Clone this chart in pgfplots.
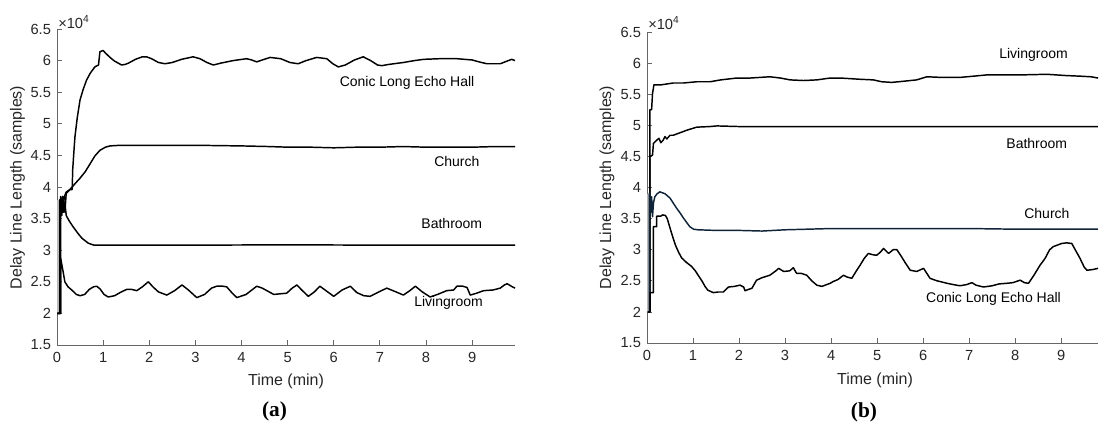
\documentclass[border=0pt]{standalone}
\usepackage{fontspec}
\setmainfont{Liberation Sans}
\newfontfamily\capfont{Liberation Serif}
\usepackage{pgfplots}
\pgfplotsset{compat=1.18}
\definecolor{axgray}{rgb}{0.40,0.40,0.40}
\definecolor{tickgray}{rgb}{0.15,0.15,0.15}
\definecolor{navyline}{rgb}{0.06,0.14,0.22}
\pgfplotsset{
  ser/.style={black, no markers, line width=1.1pt, line join=round},
  mystyle/.style={
    scale only axis,
    anchor=south west,
    axis x line=bottom, axis y line=left,
    x axis line style={-, color=axgray, line width=0.6pt},
    y axis line style={-, color=axgray, line width=0.6pt},
    tick align=inside,
    major tick length=3.5pt,
    tick style={color=axgray, line width=0.6pt},
    ymin=1.5, ymax=6.5,
    ytick={1.5,2,2.5,3,3.5,4,4.5,5,5.5,6,6.5},
    xtick={0,1,2,3,4,5,6,7,8,9},
    /pgf/number format/assume math mode=true,
    ticklabel style={font=\fontsize{11}{13}\selectfont, text=tickgray},
    yticklabel style={xshift=-1pt},
    xticklabel style={yshift=-2pt},
    clip=false,
  }
}
\begin{document}
\begin{tikzpicture}
\path[use as bounding box] (0,0) rectangle (824.25pt,324pt);
% ---------------- (a) ----------------
\begin{axis}[mystyle, at={(42.75pt,65.25pt)}, width=343.5pt, height=237pt, xmin=0, xmax=9.93]
\addplot[fill=gray!55, draw=none, line width=0pt] coordinates {(0.005,2.0) (0.07,2.0) (0.07,3.8) (0.005,3.8)} -- cycle;
% Conic Long Echo Hall
\addplot[ser] coordinates {
(0.01,2.0)(0.06,2.0)(0.06,3.8)(0.10,3.55)(0.13,3.85)(0.17,3.6)(0.20,3.9)(0.24,3.93)(0.28,3.96)(0.33,3.96)
(0.34,4.27)(0.37,4.6)(0.39,4.80)(0.44,5.10)(0.50,5.38)(0.57,5.55)(0.64,5.69)(0.72,5.80)(0.82,5.90)(0.90,5.93)
(0.93,6.14)(1.00,6.16)(1.05,6.12)(1.15,6.05)(1.25,5.99)(1.33,5.96)(1.40,5.93)(1.48,5.94)(1.55,5.96)(1.70,6.02)
(1.85,6.06)(1.94,6.06)(2.05,6.03)(2.20,5.97)(2.34,5.95)(2.50,5.97)(2.70,6.02)(2.95,6.06)(3.10,6.03)(3.25,5.97)
(3.39,5.93)(3.55,5.96)(3.82,6.00)(4.11,6.03)(4.22,6.01)(4.33,5.98)(4.45,6.01)(4.62,6.05)(4.85,6.03)(5.05,5.97)
(5.23,5.95)(5.40,6.00)(5.63,6.05)(5.85,6.03)(5.98,5.95)(6.10,5.90)(6.25,5.93)(6.45,6.01)(6.64,6.06)(6.80,6.00)
(6.95,5.93)(7.04,5.92)(7.20,5.94)(7.51,5.97)(7.75,6.00)(7.95,6.02)(8.30,6.03)(8.67,6.03)(9.00,6.01)(9.15,5.98)
(9.32,5.95)(9.61,5.95)(9.75,5.99)(9.86,6.02)(9.93,6.00)};
% Church
\addplot[ser] coordinates {
(0.01,2.0)(0.07,2.0)(0.07,3.75)(0.12,3.6)(0.16,3.85)(0.20,3.92)(0.28,3.96)(0.40,4.06)(0.50,4.14)(0.61,4.24)
(0.72,4.37)(0.82,4.49)(0.93,4.58)(1.05,4.63)(1.15,4.65)(1.37,4.66)(2.0,4.66)(3.0,4.66)(4.0,4.65)(4.6,4.64)
(5.0,4.63)(5.5,4.63)(6.0,4.62)(6.5,4.63)(7.0,4.63)(7.5,4.64)(8.0,4.63)(8.5,4.63)(9.0,4.63)(9.5,4.64)(9.93,4.64)};
% Bathroom
\addplot[ser] coordinates {
(0.01,2.0)(0.08,2.0)(0.08,3.85)(0.10,3.55)(0.12,3.85)(0.14,3.6)(0.17,3.75)(0.20,3.55)(0.25,3.48)(0.35,3.37)
(0.45,3.27)(0.54,3.19)(0.68,3.11)(0.80,3.08)(0.90,3.08)(1.5,3.08)(3.0,3.08)(5.0,3.085)(7.0,3.08)(9.0,3.08)(9.93,3.08)};
% Livingroom
\addplot[ser] coordinates {
(0.01,2.0)(0.08,2.0)(0.08,2.87)(0.11,2.75)(0.14,2.63)(0.17,2.50)(0.24,2.42)(0.32,2.37)(0.42,2.30)(0.50,2.28)
(0.60,2.30)(0.70,2.38)(0.79,2.42)(0.86,2.43)(0.93,2.39)(1.02,2.30)(1.11,2.26)(1.25,2.28)(1.37,2.33)(1.51,2.38)
(1.62,2.38)(1.73,2.36)(1.85,2.42)(1.98,2.50)(2.08,2.42)(2.20,2.34)(2.38,2.29)(2.55,2.36)(2.71,2.45)(2.85,2.37)
(3.03,2.25)(3.20,2.30)(3.35,2.40)(3.46,2.43)(3.60,2.43)(3.68,2.42)(3.80,2.32)(3.90,2.25)(4.10,2.30)(4.33,2.43)
(4.45,2.40)(4.55,2.36)(4.70,2.30)(4.84,2.31)(4.98,2.32)(5.10,2.40)(5.20,2.45)(5.32,2.36)(5.45,2.27)(5.58,2.34)
(5.70,2.43)(5.85,2.35)(6.00,2.27)(6.18,2.37)(6.36,2.43)(6.50,2.33)(6.65,2.28)(6.79,2.27)(6.95,2.33)(7.15,2.40)
(7.35,2.34)(7.51,2.29)(7.65,2.36)(7.77,2.43)(7.92,2.34)(8.09,2.26)(8.25,2.30)(8.45,2.36)(8.60,2.37)(8.67,2.43)
(8.80,2.43)(8.89,2.41)(8.96,2.29)(9.10,2.32)(9.25,2.36)(9.45,2.37)(9.61,2.40)(9.70,2.45)(9.76,2.47)(9.85,2.43)(9.93,2.40)};
\begin{scope}[every node/.style={font=\fontsize{10.5}{12}\selectfont}]
\node at (axis cs:7.59,5.65) {Conic Long Echo Hall};
\node at (axis cs:8.67,4.41) {Church};
\node at (axis cs:8.56,3.43) {Bathroom};
\node at (axis cs:8.49,2.16) {Livingroom};
\end{scope}
\end{axis}
% ---------------- (b) ----------------
\begin{axis}[mystyle, at={(485.25pt,66.75pt)}, width=338.25pt, height=233.25pt, xmin=0, xmax=9.8]
\addplot[fill=gray!55, draw=none, line width=0pt] coordinates {(0.005,2.0) (0.06,2.0) (0.06,3.9) (0.005,3.9)} -- cycle;
% Livingroom
\addplot[ser] coordinates {
(0.02,2.0)(0.06,2.0)(0.06,5.25)(0.10,5.25)(0.12,5.51)(0.15,5.65)(0.30,5.65)(0.57,5.68)(0.79,5.68)(1.08,5.70)
(1.37,5.70)(1.60,5.73)(1.95,5.76)(2.24,5.76)(2.67,5.78)(2.90,5.76)(3.11,5.73)(3.40,5.72)(3.69,5.73)(3.98,5.76)
(4.20,5.76)(4.63,5.74)(4.92,5.73)(5.10,5.70)(5.32,5.69)(5.60,5.71)(5.86,5.73)(6.08,5.78)(6.40,5.77)(6.80,5.77)
(7.10,5.79)(7.38,5.81)(8.11,5.81)(8.69,5.82)(9.10,5.80)(9.41,5.79)(9.65,5.78)(9.80,5.76)};
% Bathroom
\addplot[ser] coordinates {
(0.02,2.0)(0.06,2.0)(0.06,4.50)(0.12,4.52)(0.14,4.71)(0.21,4.76)(0.26,4.79)(0.30,4.72)(0.35,4.76)(0.39,4.82)
(0.43,4.78)(0.50,4.84)(0.57,4.84)(0.79,4.90)(0.86,4.92)(1.08,4.97)(1.37,4.98)(1.52,4.99)(2.0,4.98)(4.0,4.98)
(6.0,4.98)(8.0,4.98)(9.8,4.98)};
% Church
\addplot[ser, navyline] coordinates {
(0.02,2.0)(0.05,2.0)(0.05,3.91)(0.08,3.6)(0.10,3.85)(0.12,3.53)(0.14,3.75)(0.17,3.85)(0.22,3.90)(0.28,3.93)
(0.39,3.90)(0.50,3.83)(0.57,3.75)(0.65,3.66)(0.72,3.59)(0.80,3.50)(0.93,3.37)(1.01,3.33)(1.11,3.32)(1.5,3.31)
(2.0,3.31)(2.5,3.30)(3.0,3.32)(3.5,3.33)(4.0,3.34)(5.0,3.34)(6.0,3.34)(7.0,3.34)(8.0,3.33)(9.0,3.33)(9.8,3.33)};
% Conic Long Echo Hall
\addplot[ser] coordinates {
(0.02,2.0)(0.07,2.0)(0.07,2.31)(0.14,2.31)(0.14,3.37)(0.21,3.37)(0.21,3.54)(0.30,3.54)(0.34,3.56)(0.40,3.55)
(0.44,3.50)(0.48,3.40)(0.52,3.30)(0.57,3.18)(0.62,3.07)(0.68,2.97)(0.75,2.87)(0.85,2.80)(0.97,2.73)(1.05,2.66)
(1.12,2.58)(1.20,2.49)(1.26,2.41)(1.32,2.35)(1.44,2.31)(1.55,2.32)(1.66,2.32)(1.77,2.40)(1.90,2.41)(2.02,2.43)
(2.10,2.40)(2.13,2.34)(2.20,2.36)(2.28,2.38)(2.38,2.51)(2.50,2.55)(2.67,2.59)(2.80,2.66)(2.86,2.70)(2.97,2.65)
(3.10,2.66)(3.18,2.71)(3.25,2.62)(3.35,2.62)(3.47,2.59)(3.58,2.50)(3.69,2.43)(3.80,2.41)(3.98,2.46)(4.05,2.49)
(4.15,2.52)(4.27,2.59)(4.35,2.56)(4.45,2.54)(4.55,2.66)(4.63,2.75)(4.72,2.86)(4.81,2.94)(4.90,2.92)(4.99,2.91)
(5.07,2.96)(5.14,3.02)(5.25,2.94)(5.35,3.00)(5.43,3.00)(5.52,2.90)(5.62,2.78)(5.72,2.67)(5.86,2.65)(6.01,2.70)
(6.08,2.62)(6.15,2.54)(6.30,2.50)(6.52,2.46)(6.65,2.44)(6.80,2.42)(6.95,2.44)(7.06,2.47)(7.15,2.43)(7.31,2.40)
(7.50,2.42)(7.65,2.45)(7.82,2.46)(7.95,2.47)(8.11,2.51)(8.20,2.47)(8.29,2.46)(8.40,2.58)(8.54,2.75)(8.65,2.86)
(8.75,3.00)(8.83,3.05)(9.01,3.10)(9.12,3.11)(9.23,3.10)(9.32,2.98)(9.41,2.86)(9.50,2.72)(9.56,2.67)(9.68,2.68)(9.80,2.70)};
\begin{scope}[every node/.style={font=\fontsize{10.5}{12}\selectfont}]
\node at (axis cs:8.40,6.13) {Livingroom};
\node at (axis cs:8.47,4.71) {Bathroom};
\node at (axis cs:8.69,3.59) {Church};
\node at (axis cs:7.53,2.21) {Conic Long Echo Hall};
\end{scope}
\end{axis}
% ---------------- labels ----------------
\begin{scope}[every node/.style={font=\fontsize{12}{14}\selectfont, text=tickgray}]
\node at (214.5pt,38.25pt) {Time (min)};
\node at (656.25pt,39pt) {Time (min)};
\node[rotate=90] at (13.1pt,183.4pt) {Delay Line Length (samples)};
\node[rotate=90] at (455.25pt,183.4pt) {Delay Line Length (samples)};
\end{scope}
\begin{scope}[every node/.style={font=\fontsize{11}{13}\selectfont, text=tickgray, anchor=west, inner sep=0pt}]
\node at (43.5pt,307.5pt) {×10\textsuperscript{4}};
\node at (486pt,306.75pt) {×10\textsuperscript{4}};
\end{scope}
\node[font=\capfont\bfseries\fontsize{16}{18}\selectfont] at (205.9pt,15.75pt) {(a)};
\node[font=\capfont\bfseries\fontsize{16}{18}\selectfont] at (648pt,15pt) {(b)};
\end{tikzpicture}
\end{document}
